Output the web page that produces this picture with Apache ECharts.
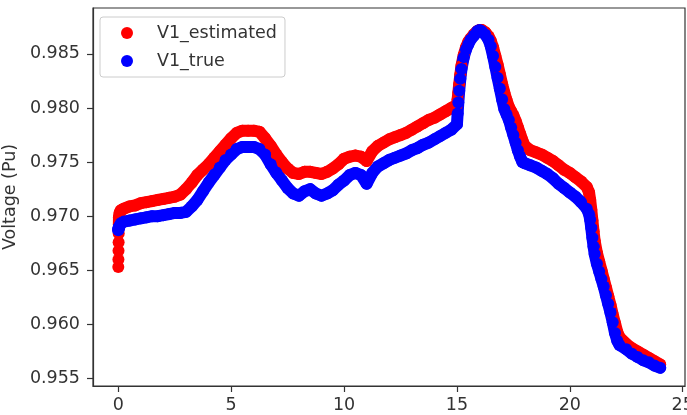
<!DOCTYPE html>
<html>
<head>
<meta charset="utf-8">
<script src="https://cdn.jsdelivr.net/npm/echarts@6/dist/echarts.min.js"></script>
<style>html,body{margin:0;padding:0;background:#fff}#chart{width:687px;height:415px}</style>
</head>
<body>
<div id="chart"></div>
<script>
const hours = [
  0, 0.005, 0.01, 0.015, 0.02, 0.025, 0.03, 0.06, 0.1, 0.15, 0.25,
  0.5, 0.75, 1.0, 1.25, 1.5, 1.75, 2.0, 2.25, 2.5, 2.75, 3.0, 3.25, 3.5, 3.75, 4.0, 4.25, 4.5, 4.75,
  5.0, 5.25, 5.5, 5.75, 6.0, 6.25, 6.5, 6.75, 7.0, 7.25, 7.5, 7.75, 8.0, 8.25, 8.5, 8.75,
  9.0, 9.25, 9.5, 9.75, 10.0, 10.25, 10.5, 10.75, 11.0, 11.25, 11.5, 11.75, 12.0, 12.25, 12.5, 12.75,
  13.0, 13.25, 13.5, 13.75, 14.0, 14.25, 14.5, 14.75,
  15.0, 15.03, 15.06, 15.1, 15.15, 15.2, 15.3, 15.4, 15.5, 15.6, 15.75, 15.9, 16.0, 16.1, 16.25, 16.4,
  16.5, 16.6, 16.7, 16.8, 16.9, 17.0, 17.1, 17.2, 17.3, 17.4, 17.5, 17.6, 17.7, 17.8, 17.9, 18.0,
  18.25, 18.5, 18.75, 19.0, 19.25, 19.5, 19.75, 20.0, 20.25, 20.5, 20.75,
  20.85, 20.9, 20.95, 21.0, 21.05, 21.1, 21.2, 21.3, 21.4, 21.5, 21.6, 21.7, 21.8, 21.9, 22.0, 22.1, 22.2,
  22.5, 22.75, 23.0, 23.25, 23.5, 23.75, 24.0
];

const v1Estimated = [
  0.9653, 0.9660, 0.9668, 0.9676, 0.9684, 0.9692, 0.9699, 0.9703, 0.9705, 0.9706, 0.9707,
  0.9709, 0.9710, 0.9712, 0.9713, 0.9714, 0.9715, 0.9716, 0.9717, 0.9718, 0.9720, 0.9725, 0.9731, 0.9738, 0.9743, 0.9748, 0.9754, 0.9760, 0.9766,
  0.9772, 0.9777, 0.9779, 0.9779, 0.9779, 0.9778, 0.9772, 0.9765, 0.9757, 0.9750, 0.9744, 0.9740, 0.9739, 0.9741, 0.9741, 0.9740,
  0.9739, 0.9741, 0.9744, 0.9748, 0.9753, 0.9755, 0.9756, 0.9755, 0.9751, 0.9760, 0.9765, 0.9768, 0.9771, 0.9773, 0.9775, 0.9777,
  0.9780, 0.9783, 0.9786, 0.9789, 0.9791, 0.9794, 0.9797, 0.9800,
  0.9803, 0.9808, 0.9814, 0.9822, 0.9831, 0.9839, 0.9849, 0.9856, 0.9861, 0.9864, 0.9868, 0.9871, 0.9872, 0.9872, 0.9870, 0.9866,
  0.9862, 0.9856, 0.9848, 0.9840, 0.9831, 0.9822, 0.9814, 0.9807, 0.9801, 0.9797, 0.9793, 0.9788, 0.9782, 0.9776, 0.9770, 0.9765,
  0.9761, 0.9759, 0.9757, 0.9754, 0.9751, 0.9747, 0.9743, 0.9740, 0.9736, 0.9732, 0.9727,
  0.9722, 0.9715, 0.9706, 0.9696, 0.9686, 0.9677, 0.9666, 0.9658, 0.9650, 0.9642, 0.9634, 0.9626, 0.9618, 0.9609, 0.9601, 0.9593, 0.9588,
  0.9582, 0.9578, 0.9575, 0.9572, 0.9569, 0.9566, 0.9563
];

const v1True = [
  0.9687, 0.9688, 0.9688, 0.9689, 0.9689, 0.9690, 0.9690, 0.9691, 0.9693, 0.9694, 0.9695,
  0.9696, 0.9697, 0.9698, 0.9699, 0.9700, 0.9700, 0.9701, 0.9702, 0.9703, 0.9703, 0.9704, 0.9709, 0.9715, 0.9723, 0.9731, 0.9738, 0.9745, 0.9752,
  0.9757, 0.9762, 0.9764, 0.9764, 0.9764, 0.9762, 0.9757, 0.9748, 0.9740, 0.9733, 0.9726, 0.9721, 0.9719, 0.9723, 0.9725, 0.9721,
  0.9719, 0.9721, 0.9724, 0.9729, 0.9733, 0.9738, 0.9740, 0.9738, 0.9730, 0.9740, 0.9746, 0.9749, 0.9752, 0.9754, 0.9756, 0.9758,
  0.9761, 0.9763, 0.9766, 0.9768, 0.9771, 0.9774, 0.9777, 0.9780,
  0.9785, 0.9795, 0.9805, 0.9816, 0.9827, 0.9836, 0.9847, 0.9854, 0.9859, 0.9863, 0.9867, 0.9871, 0.9872, 0.9871, 0.9868, 0.9863,
  0.9857, 0.9848, 0.9838, 0.9828, 0.9818, 0.9808, 0.9799, 0.9794, 0.9789, 0.9782, 0.9775, 0.9768, 0.9761, 0.9755, 0.9750, 0.9749,
  0.9747, 0.9745, 0.9742, 0.9739, 0.9735, 0.9730, 0.9726, 0.9722, 0.9718, 0.9713, 0.9707,
  0.9702, 0.9697, 0.9689, 0.9680, 0.9672, 0.9665, 0.9656, 0.9649, 0.9642, 0.9635, 0.9627, 0.9619, 0.9611, 0.9602, 0.9592, 0.9585, 0.9581,
  0.9577, 0.9573, 0.9570, 0.9567, 0.9565, 0.9562, 0.9560
];

const xTicks = [0, 5, 10, 15, 20, 25];
const yTicks = [0.955, 0.960, 0.965, 0.970, 0.975, 0.980, 0.985];
const seriesNames = ['V1_estimated', 'V1_true'];
const seriesColors = ['#ff0000', '#0000ff'];

const font = '"DejaVu Sans", sans-serif';
const txt = '#333';
const MS = 12;

function bandSeries(name, color, pts) {
  // continuous band made of the same data points (as dense markers would look)
  return {name: name + ' ', type: 'line', data: pts, showSymbol: false, silent: true,
    lineStyle: {color: color, width: MS, cap: 'round', join: 'round'}, z: 2};
}
function dotSeries(name, color, pts) {
  return {name: name, type: 'scatter', symbol: 'circle', symbolSize: MS,
    itemStyle: {color: color, opacity: 1}, data: pts, z: 2};
}
const redPts = hours.map((h, i) => [h, v1Estimated[i]]);
const bluePts = hours.map((h, i) => [h, v1True[i]]);

const chart = echarts.init(document.getElementById('chart'), null, {renderer: 'canvas'});
chart.setOption({
  animation: false,
  backgroundColor: '#fff',
  grid: {left: 93, right: 2, top: 8, bottom: 29, show: true, borderColor: '#333', borderWidth: 1.2,
         backgroundColor: 'transparent', outerBoundsMode: 'none', containLabel: false},
  legend: {
    left: 100, top: 17, orient: 'vertical',
    padding: [6, 8, 6, 21],
    itemWidth: 50, itemHeight: 12, itemGap: 8,
    borderColor: '#cccccc', borderWidth: 1, borderRadius: 3,
    backgroundColor: 'rgba(255,255,255,0.85)',
    textStyle: {fontFamily: font, fontSize: 17.5, color: txt, lineHeight: 20},
    data: seriesNames.map(n => ({name: n, icon: 'circle'}))
  },
  xAxis: {
    type: 'value', min: -1.12, max: 25.1,
    splitLine: {show: false},
    axisLine: {onZero: false, lineStyle: {color: '#333', width: 1.2}},
    axisTick: {show: true, length: 6, lineStyle: {color: '#333', width: 1.2}, customValues: xTicks},
    axisLabel: {customValues: xTicks, fontFamily: font, fontSize: 17.5, color: txt, margin: 10, formatter: v => String(v)}
  },
  yAxis: {
    type: 'value', min: 0.95431, max: 0.98924,
    name: 'Voltage (Pu)', nameLocation: 'middle', nameGap: 72,
    nameTextStyle: {fontFamily: font, fontSize: 17.5, color: txt},
    splitLine: {show: false},
    axisLine: {show: true, onZero: false, lineStyle: {color: '#333', width: 1.2}},
    axisTick: {show: true, length: 6, lineStyle: {color: '#333', width: 1.2}, customValues: yTicks},
    axisLabel: {customValues: yTicks, fontFamily: font, fontSize: 17.5, color: txt, margin: 13, formatter: v => v.toFixed(3)}
  },
  series: [
    bandSeries(seriesNames[0], seriesColors[0], redPts.slice(5)),
    dotSeries(seriesNames[0], seriesColors[0], redPts),
    bandSeries(seriesNames[1], seriesColors[1], bluePts),
    dotSeries(seriesNames[1], seriesColors[1], bluePts)
  ]
});
</script>
</body>
</html>
